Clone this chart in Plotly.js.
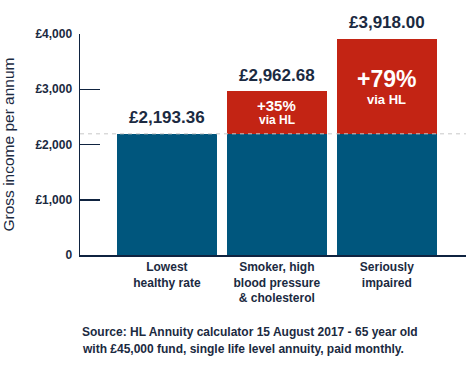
<!DOCTYPE html>
<html>
<head>
<meta charset="utf-8">
<script src="https://cdn.plot.ly/plotly-3.0.1.min.js"></script>
<style>html,body{margin:0;padding:0;background:#fff;}#chart{width:467px;height:375px;}</style>
</head>
<body>
<div id="chart"></div>
<script>
// ---- data ----
const categories = ['Lowest<br>healthy rate', 'Smoker, high<br>blood pressure<br>& cholesterol', 'Seriously<br>impaired'];
const values = [2193.36, 2962.68, 3918.00];
const yTickVals = [0, 1000, 2000, 3000, 4000];
const yTickText = ['0', '£1,000', '£2,000', '£3,000', '£4,000'];
const viaLabel = 'via HL';
const sourceLines = ['Source: HL Annuity calculator 15 August 2017 - 65 year old',
                     'with £45,000 fund, single life level annuity, paid monthly.'];

// ---- styles ----
const NAVY = '#1b2a41';
const AXIS = '#0f2340';
const BLUE = '#00567d';
const RED = '#c32414';
const FONT = '"Liberation Sans", Arial, sans-serif';

const base = values[0];
const baseArr = values.map(() => base);
const extra = values.map(v => v - base);

const traces = [
  {type: 'bar', x: categories, y: baseArr, marker: {color: BLUE}, hoverinfo: 'none'},
  {type: 'bar', x: categories, y: extra, marker: {color: RED}, hoverinfo: 'none'}
];

const fmt = v => '£' + v.toLocaleString('en-GB', {minimumFractionDigits: 2, maximumFractionDigits: 2});

const annotations = [];
values.forEach((v, i) => {
  annotations.push({x: categories[i], y: v, xref: 'x', yref: 'y', text: fmt(v), showarrow: false,
    yanchor: 'middle', yshift: 16, font: {family: FONT, size: 17, color: NAVY, weight: 'bold'}});
  if (i > 0) {
    const pct = Math.round((v / base - 1) * 100);
    const big = i === 2;
    annotations.push({x: categories[i], y: (v + base) / 2, xref: 'x', yref: 'y', text: '<b>+' + pct + '%</b>',
      showarrow: false, yanchor: 'middle', yshift: big ? 7 : 7,
      font: {family: FONT, size: big ? 23 : 15, color: '#ffffff'}});
    annotations.push({x: categories[i], y: (v + base) / 2, xref: 'x', yref: 'y', text: '<b>' + viaLabel + '</b>',
      showarrow: false, yanchor: 'middle', yshift: big ? -13 : -7,
      font: {family: FONT, size: big ? 13 : 12, color: '#ffffff'}});
  }
});
sourceLines.forEach((t, k) => {
  annotations.push({x: 0, y: 0, xref: 'paper', yref: 'paper', xanchor: 'left', yanchor: 'middle',
    yshift: -77 - 17 * k, text: '<b>' + t + '</b>', showarrow: false, align: 'left',
    font: {family: FONT, size: 12, color: NAVY}});
});

const layout = {
  width: 467, height: 375,
  margin: {l: 80, r: 1, t: 34, b: 120, pad: 0},
  paper_bgcolor: '#fff', plot_bgcolor: '#fff',
  barmode: 'stack', bargap: 0.0909, showlegend: false,
  font: {family: FONT, color: NAVY},
  xaxis: {type: 'category', range: [-0.79, 2.72], showline: true, linecolor: AXIS, linewidth: 1.5,
    ticks: '', showgrid: false, zeroline: false, fixedrange: true,
    tickfont: {family: FONT, size: 12, color: NAVY, weight: 'bold'}},
  yaxis: {range: [0, 4000], tickvals: yTickVals, ticktext: yTickText, ticks: 'inside', ticklen: 20,
    tickwidth: 1.5, tickcolor: AXIS, showline: true, linecolor: AXIS, linewidth: 1.5,
    showgrid: false, zeroline: false, fixedrange: true, ticklabelstandoff: 4,
    tickfont: {family: FONT, size: 12, color: NAVY, weight: 'bold'},
    title: {text: 'Gross income per annum', standoff: 17, font: {family: FONT, size: 15.5, color: NAVY}}},
  shapes: [{type: 'line', xref: 'paper', x0: 0, x1: 1, yref: 'y', y0: base, y1: base, layer: 'above',
    line: {color: '#c8c8c8', width: 1, dash: '4px,4px'}}],
  annotations: annotations
};

Plotly.newPlot('chart', traces, layout, {displayModeBar: false, staticPlot: true});
</script>
</body>
</html>
